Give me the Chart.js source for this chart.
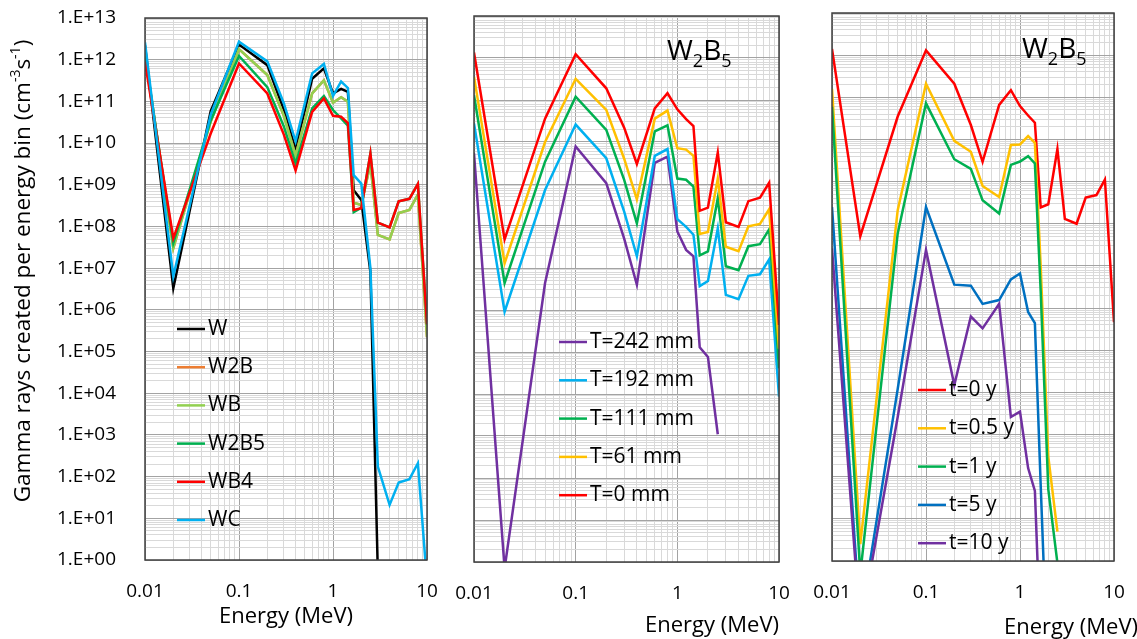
<!DOCTYPE html>
<html>
<head>
<meta charset="utf-8">
<script src="https://cdn.jsdelivr.net/npm/chart.js@4.4.1/dist/chart.umd.min.js"></script>
<style>
body{margin:0;background:#fff;width:1137px;height:639px;overflow:hidden;position:relative;}
.box{position:absolute;top:0;height:639px;}
</style>
</head>
<body>
<div class="box" style="left:0;width:440px"><canvas id="c1"></canvas></div>
<div class="box" style="left:440px;width:355px"><canvas id="c2"></canvas></div>
<div class="box" style="left:795px;width:342px"><canvas id="c3"></canvas></div>
<script>
// energy bins (MeV)
const energy = [0.01, 0.02, 0.05, 0.1, 0.2, 0.3, 0.4, 0.6, 0.8, 1.0, 1.22, 1.44, 1.66, 2.0, 2.5, 3.0, 4.0, 5.0, 6.5, 8.0, 10];

// panel 1: materials
const w    = [2.2e12, 3.3e6, 5.8e10, 2.3e12, 7.4e11, 6.3e10, 7.1e9, 3.5e11, 6.2e11, 1.55e11, 2.0e11, 1.7e11, 7.4e8, 4.3e8, 8e6, 0.5, null, null, null, null, null];
const w2b  = [1.4e12, 3.0e7, 3.3e10, 1.8e12, 4.3e11, 4.5e10, 5.0e9, 1.55e11, 3.2e11, 9.3e10, 1.26e11, 9.8e10, 3.7e8, 3.3e8, 3.2e9, 6.3e7, 4.9e7, 2.1e8, 2.5e8, 5.8e8, 2.2e5];
const wb   = [1.4e12, 3.0e7, 3.3e10, 1.8e12, 4.3e11, 4.5e10, 5.0e9, 1.55e11, 3.2e11, 9.3e10, 1.26e11, 9.8e10, 3.7e8, 3.3e8, 3.2e9, 6.3e7, 4.9e7, 2.1e8, 2.5e8, 5.8e8, 2.2e5];
const w2b5 = [1.2e12, 4.0e7, 3.5e10, 1.23e12, 2.2e11, 2.5e10, 3.2e9, 6.8e10, 1.35e11, 6.2e10, 3.9e10, 2.6e10, 2.2e8, 2.8e8, 5.6e9, 1.23e8, 9.5e7, 4.0e8, 4.6e8, 1.05e9, 4.5e5];
const wb4  = [8.9e11, 5.2e7, 1.7e10, 8.1e11, 1.55e11, 1.6e10, 2.2e9, 5.6e10, 1.17e11, 4.5e10, 4.3e10, 3.0e10, 2.5e8, 2.75e8, 5.6e9, 1.23e8, 9.5e7, 4.0e8, 4.6e8, 1.05e9, 4.5e5];
const wc   = [2.6e12, 6.3e6, 4.8e10, 2.7e12, 9.1e11, 8.9e10, 1.1e10, 4.7e11, 7.9e11, 1.35e11, 3.0e11, 2.1e11, 1.7e9, 1.07e9, 1.0e7, 174, 21, 72, 87, 209, 0.3];

// panel 2: W2B5, shield thickness
const t242 = [5.4e9, 0.7, 4.4e6, 7.8e9, 1.05e9, 5.0e7, 4.0e6, 3.2e9, 4.5e9, 7.4e7, 2.7e7, 1.9e7, 1.3e5, 7.6e4, 1.1e3, null, null, null, null, null, null];
const t192 = [2.75e10, 9.1e5, 7.2e8, 2.6e10, 4.1e9, 2.2e8, 1.9e7, 4.7e9, 6.8e9, 1.45e8, 9.5e7, 6.2e7, 3.7e6, 4.9e6, 8.7e7, 2.3e6, 1.8e6, 6.5e6, 7.1e6, 1.6e7, 8.7e3];
const t111 = [1.3e11, 4.4e6, 3.4e9, 1.2e11, 1.95e10, 1.26e9, 1.15e8, 1.8e10, 2.5e10, 1.35e9, 1.26e9, 8.7e8, 2.0e7, 2.5e7, 4.6e8, 1.1e7, 8.9e6, 3.3e7, 3.7e7, 8.3e7, 4.1e4];
const t61  = [3.6e11, 1.3e7, 1.0e10, 3.2e11, 5.8e10, 4.0e9, 4.3e8, 3.6e10, 5.6e10, 7.1e9, 6.6e9, 4.7e9, 6.5e7, 7.2e7, 1.35e9, 3.2e7, 2.5e7, 9.8e7, 1.12e8, 2.5e8, 1.2e5];
const t0   = [1.35e12, 4.8e7, 3.6e10, 1.23e12, 1.9e11, 2.2e10, 3.0e9, 6.3e10, 1.45e11, 6.0e10, 3.5e10, 2.4e10, 2.3e8, 2.75e8, 5.6e9, 1.23e8, 9.5e7, 3.9e8, 4.7e8, 1.07e9, 4.4e5];

// panel 3: W2B5, cooling time
const y0   = [1.4e12, 5.1e7, 3.5e10, 1.3e12, 2.1e11, 2.2e10, 2.95e9, 6.6e10, 1.48e11, 6.2e10, 3.7e10, 2.5e10, 2.45e8, 2.9e8, 5.9e9, 1.3e8, 1.0e8, 4.2e8, 4.8e8, 1.12e9, 4.6e5];
const y05  = [1.6e11, 2.5, 2.1e8, 2.1e11, 9.3e9, 5.1e9, 7.9e8, 4.3e8, 7.4e9, 7.6e9, 1.2e10, 8.3e9, 1.0e7, 300, 5, null, null, null, null, null, null];
const y1   = [6.0e10, 0.5, 5.9e7, 7.2e10, 3.4e9, 2.0e9, 3.6e8, 1.75e8, 2.5e9, 3.0e9, 4.0e9, 2.7e9, 2.5e6, 50, 0.9, null, null, null, null, null, null];
const y5   = [2.5e8, 0.035, 1.2e4, 2.5e8, 3.6e6, 3.4e6, 1.26e6, 1.55e6, 4.8e6, 6.6e6, 8.1e5, 4.4e5, 63, 0.001, null, null, null, null, null, null, null];
const y10  = [2.6e7, 0.026, 2.6e3, 2.4e7, 1.5e4, 6.3e5, 3.3e5, 1.26e6, 2.6e3, 3.5e3, 160, 46, 0.01, null, null, null, null, null, null, null, null];

// axis ticks
const yDecades = [1, 1e1, 1e2, 1e3, 1e4, 1e5, 1e6, 1e7, 1e8, 1e9, 1e10, 1e11, 1e12, 1e13];
const yDecadeLabels = ['1.E+00','1.E+01','1.E+02','1.E+03','1.E+04','1.E+05','1.E+06','1.E+07','1.E+08','1.E+09','1.E+10','1.E+11','1.E+12','1.E+13'];
const xDecades = [0.01, 0.1, 1, 10];
const xDecadeLabels = ['0.01', '0.1', '1', '10'];

const FONT = "'Open Sans', sans-serif";
const MAJOR = '#a3a3a3';
const MINOR = '#d9d9d9';

function logTicks(decades) {
  const out = [];
  decades.forEach((d, i) => {
    out.push({value: d, major: true});
    if (i < decades.length - 1) {
      for (let k = 2; k <= 9; k++) out.push({value: +(d * k).toPrecision(3), major: false});
    }
  });
  return out;
}

function line(label, values, color, i) {
  return {
    label: label,
    data: energy.map((e, k) => ({x: e, y: values[k]})),
    borderColor: color,
    backgroundColor: color,
    borderWidth: 2.5,
    pointRadius: 0,
    tension: 0,
    order: -i
  };
}

// draws chart area frame
const framePlugin = {
  id: 'frame',
  afterDatasetsDraw(chart) {
    const {left, top, right, bottom} = chart.chartArea;
    const ctx = chart.ctx;
    ctx.save();
    ctx.strokeStyle = '#404040';
    ctx.lineWidth = 1.5;
    ctx.strokeRect(left, top, right - left, bottom - top);
    ctx.restore();
  }
};

// legend placed inside the plot
const boxLegend = {
  id: 'boxLegend',
  afterDraw(chart, args, o) {
    const ctx = chart.ctx;
    ctx.save();
    ctx.font = '21px ' + FONT;
    ctx.textBaseline = 'middle';
    chart.data.datasets.forEach((ds, i) => {
      const y = o.y + i * o.dy;
      ctx.strokeStyle = ds.borderColor;
      ctx.lineWidth = 2.5;
      ctx.beginPath();
      ctx.moveTo(o.x, y);
      ctx.lineTo(o.x + 28, y);
      ctx.stroke();
      ctx.fillStyle = '#000';
      ctx.fillText(ds.label, o.x + 31, y);
    });
    ctx.restore();
  }
};

// text with sub/superscripts
function drawRich(ctx, parts, x, y, rot, align, baseline) {
  ctx.save();
  ctx.translate(x, y);
  ctx.rotate(rot || 0);
  ctx.textBaseline = baseline || 'alphabetic';
  ctx.fillStyle = '#000';
  let total = 0;
  parts.forEach(p => {
    ctx.font = p.size + 'px ' + FONT;
    p.w = ctx.measureText(p.t).width;
    total += p.w;
  });
  let cx = align === 'right' ? -total : (align === 'left' ? 0 : -total / 2);
  parts.forEach(p => {
    ctx.font = p.size + 'px ' + FONT;
    ctx.fillText(p.t, cx, p.dy || 0);
    cx += p.w;
  });
  ctx.restore();
}

const notesPlugin = {
  id: 'notes',
  afterDraw(chart, args, o) {
    (o.items || []).forEach(it => drawRich(chart.ctx, it.parts, it.x, it.y, it.rot, it.align, it.baseline));
  }
};

const formula = [{t: 'W', size: 28}, {t: '2', size: 18, dy: 7}, {t: 'B', size: 28}, {t: '5', size: 18, dy: 7}];

function scales(cfg) {
  return {
    x: {
      type: 'logarithmic',
      min: 0.01,
      max: 10,
      afterBuildTicks: s => { s.ticks = logTicks(xDecades); },
      afterFit: s => { s.height = cfg.xh; },
      grid: {color: c => (c.tick && c.tick.major) ? MAJOR : MINOR, drawTicks: true, tickLength: 20, tickColor: 'rgba(0,0,0,0)'},
      border: {display: false},
      ticks: {
        autoSkip: false, maxRotation: 0, minRotation: 0, padding: 0, color: '#000',
        font: {family: FONT, size: 19},
        callback: v => { const i = xDecades.indexOf(v); return i >= 0 ? xDecadeLabels[i] : ''; }
      },
      title: {
        display: cfg.xTitle, text: 'Energy (MeV)', align: cfg.xAlign, color: '#000',
        font: {family: FONT, size: 22}, padding: {top: 0, bottom: cfg.xTitlePad}
      }
    },
    y: {
      type: 'logarithmic',
      min: 1,
      max: 1e13,
      afterBuildTicks: s => { s.ticks = logTicks(yDecades); },
      afterFit: s => { s.width = cfg.yw; },
      grid: {color: c => (c.tick && c.tick.major) ? MAJOR : MINOR, drawTicks: cfg.yLabels, tickLength: 29, tickColor: 'rgba(0,0,0,0)'},
      border: {display: false},
      ticks: {
        display: cfg.yLabels, autoSkip: false, padding: 0, color: '#000',
        font: {family: FONT, size: 19},
        callback: v => { const i = yDecades.indexOf(v); return i >= 0 ? yDecadeLabels[i] : ''; }
      }
    }
  };
}

function makeChart(id, datasets, cfg) {
  return new Chart(document.getElementById(id), {
    type: 'line',
    data: {datasets: datasets},
    options: {
      responsive: true,
      maintainAspectRatio: false,
      animation: false,
      layout: {padding: {top: cfg.top, right: cfg.right, left: 0, bottom: 0}},
      scales: scales(cfg),
      plugins: {
        legend: {display: false},
        tooltip: {enabled: false},
        boxLegend: cfg.legend,
        notes: {items: cfg.notes}
      }
    },
    plugins: [framePlugin, boxLegend, notesPlugin]
  });
}

makeChart('c1', [
  line('W', w, '#000000', 0),
  line('W2B', w2b, '#ed7d31', 1),
  line('WB', wb, '#92d050', 2),
  line('W2B5', w2b5, '#00b050', 3),
  line('WB4', wb4, '#ff0000', 4),
  line('WC', wc, '#00b0f0', 5)
], {
  top: 18, right: 13, xh: 79, yw: 145, yLabels: true, xTitle: true, xAlign: 'center', xTitlePad: 9,
  legend: {x: 177, y: 329, dy: 38.2},
  notes: [{
    parts: [{t: 'Gamma rays created per energy bin (cm', size: 22.5}, {t: '-3', size: 14, dy: -8}, {t: 's', size: 22.5}, {t: '-1', size: 14, dy: -8}, {t: ')', size: 22.5}],
    x: 24, y: 271, rot: -Math.PI / 2, align: 'center', baseline: 'middle'
  }]
});

makeChart('c2', [
  line('T=242 mm', t242, '#7030a0', 0),
  line('T=192 mm', t192, '#00b0f0', 1),
  line('T=111 mm', t111, '#00b050', 2),
  line('T=61 mm', t61, '#ffc000', 3),
  line('T=0 mm', t0, '#ff0000', 4)
], {
  top: 16, right: 16, xh: 77, yw: 34, yLabels: false, xTitle: true, xAlign: 'end', xTitlePad: 0,
  legend: {x: 119, y: 342, dy: 38.3},
  notes: [{parts: formula, x: 227, y: 60, align: 'left'}]
});

makeChart('c3', [
  line('t=0 y', y0, '#ff0000', 0),
  line('t=0.5 y', y05, '#ffc000', 1),
  line('t=1 y', y1, '#00b050', 2),
  line('t=5 y', y5, '#0070c0', 3),
  line('t=10 y', y10, '#7030a0', 4)
], {
  top: 13, right: 23, xh: 78, yw: 37, yLabels: false, xTitle: false, xAlign: 'end', xTitlePad: 0,
  legend: {x: 123, y: 390, dy: 38.3},
  notes: [
    {parts: formula, x: 227, y: 58, align: 'left'},
    {parts: [{t: 'Energy (MeV)', size: 22}], x: 343, y: 628, align: 'right', baseline: 'middle'}
  ]
});
</script>
</body>
</html>
